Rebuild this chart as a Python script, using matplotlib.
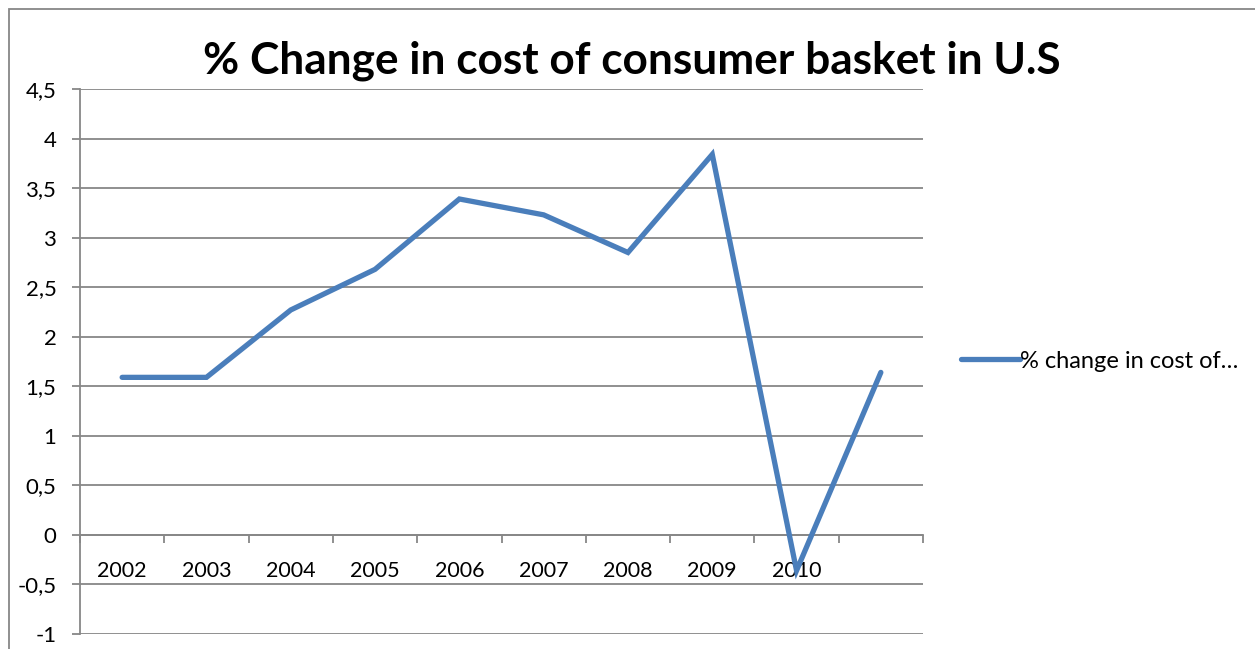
import matplotlib
matplotlib.use("Agg")
import matplotlib.pyplot as plt
from matplotlib.patches import Rectangle
from matplotlib.ticker import FixedLocator, FuncFormatter

# Data
categories = ["2002", "2003", "2004", "2005", "2006", "2007", "2008", "2009", "2010", ""]
pct_change = [1.59, 1.59, 2.27, 2.68, 3.39, 3.23, 2.85, 3.84, -0.36, 1.64]
series_name = "% change in cost of consumer basket in U.S"
legend_label = "% change in cost of…"
title = "% Change in cost of consumer basket in U.S"
y_ticks = [-1, -0.5, 0, 0.5, 1, 1.5, 2, 2.5, 3, 3.5, 4, 4.5]

plt.rcParams['font.family'] = ['Lato', 'DejaVu Sans']

W, H = 1255, 649
fig = plt.figure(figsize=(W / 100, H / 100), dpi=100)

gray = "#878787"
line_color = "#4A7EBB"

# chart frame
fig.patches.append(Rectangle((8.5 / W, -0.1), 1.2, (H - 8.5) / H + 0.1,
                             transform=fig.transFigure, fill=False,
                             edgecolor=gray, linewidth=1.3))

left, right, top, bottom = 80, 923, 89, 634
ax = fig.add_axes([left / W, (H - bottom) / H, (right - left) / W, (bottom - top) / H])

x = list(range(len(categories)))
ax.plot(x, pct_change, color=line_color, linewidth=3.8, solid_capstyle='round',
        solid_joinstyle='miter', label=series_name, zorder=3)

ax.set_xlim(-0.5, len(categories) - 0.5)
ax.set_ylim(-1, 4.5)

# horizontal gridlines
ax.yaxis.set_major_locator(FixedLocator(y_ticks))
ax.yaxis.set_major_formatter(FuncFormatter(lambda v, p: (f"{v:g}").replace(".", ",")))
ax.grid(axis='y', color=gray, linewidth=1.3, zorder=1)
ax.tick_params(axis='y', direction='out', length=6, width=1.3, color=gray,
               labelsize=16, pad=11, labelcolor='black')

# category axis at zero
for s in ("top", "right"):
    ax.spines[s].set_visible(False)
ax.spines['left'].set_color(gray)
ax.spines['left'].set_linewidth(1.3)
ax.spines['bottom'].set_position(('data', 0))
ax.spines['bottom'].set_color(gray)
ax.spines['bottom'].set_linewidth(1.3)
ax.set_xticks(x)
ax.set_xticklabels(categories)
ax.set_xticks([i - 0.5 for i in range(len(categories) + 1)], minor=True)
ax.tick_params(axis='x', which='major', length=0, labelsize=15.5, pad=19)
ax.tick_params(axis='x', which='minor', direction='out', length=5.5, width=1.3, color=gray)

fig.text(632 / W, 1 - 61 / H, title, ha='center', va='center',
         fontsize=31.8, fontweight='bold')

handle, = ax.plot([], [], color=line_color, linewidth=3.8, solid_capstyle='round')
fig.legend([handle], [legend_label], loc='center left',
           bbox_to_anchor=(952 / W, 1 - 361 / H), frameon=False,
           fontsize=17, handlelength=2.5, handletextpad=0.0, borderaxespad=0)

fig.savefig("out.png", dpi=100)
